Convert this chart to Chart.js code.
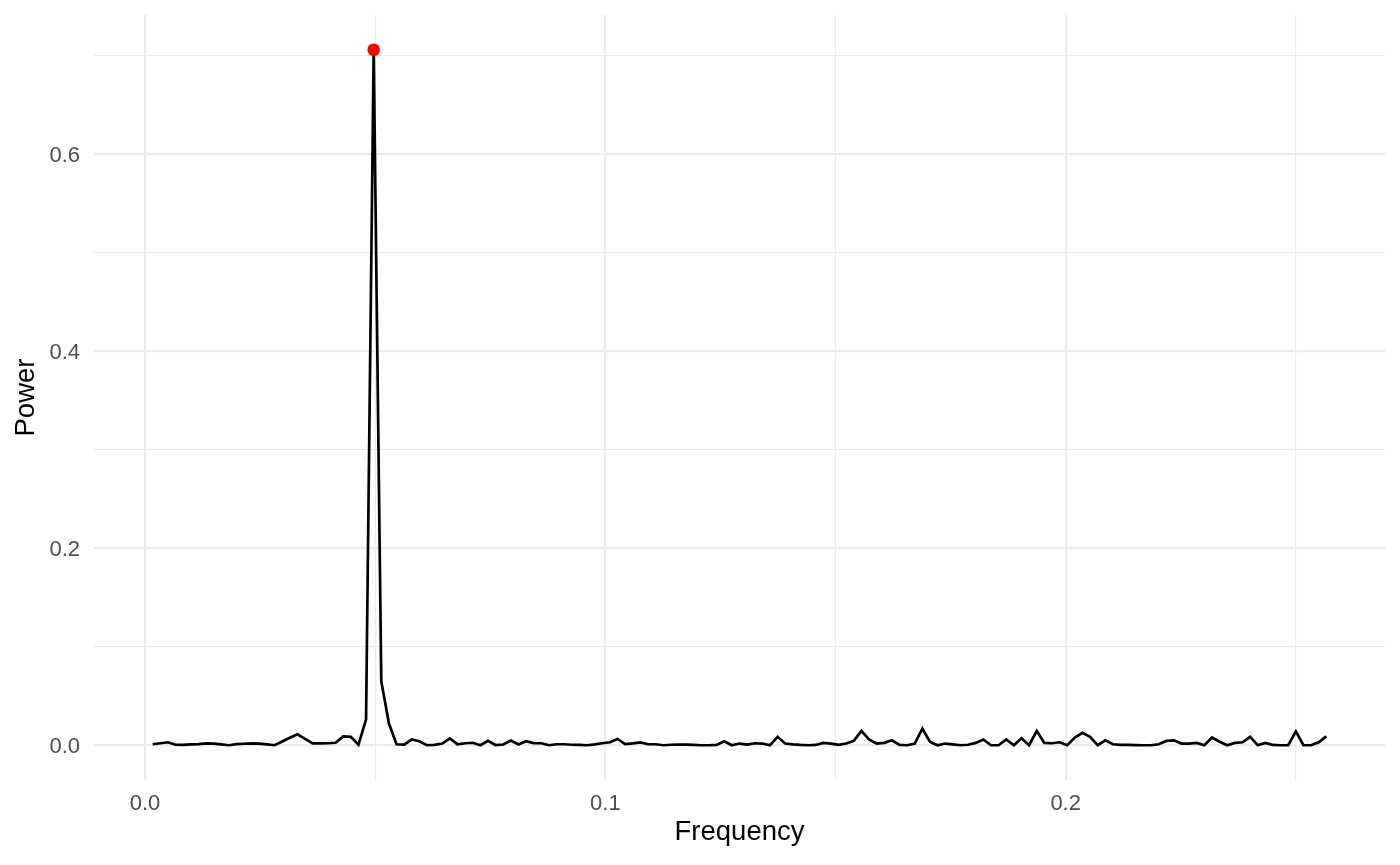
<!DOCTYPE html>
<html>
<head>
<meta charset="utf-8">
<title>Power spectrum</title>
<script src="https://cdn.jsdelivr.net/npm/chart.js@4.4.1/dist/chart.umd.min.js"></script>
<style>
    html, body { margin: 0; padding: 0; background: #ffffff; }
    #wrap { position: absolute; left: 0; top: 0; width: 1400px; height: 865px; }
</style>
</head>
<body>
<div id="wrap"><canvas id="spectrumChart" width="1400" height="865"></canvas></div>
<script>
// frequency grid of the periodogram (cycles per step)
var FREQUENCY = [
    0.00166, 0.00331, 0.00497, 0.00662, 0.00828, 0.00993, 0.01159, 0.01325, 0.01490, 0.01656,
    0.01821, 0.01987, 0.02152, 0.02318, 0.02483, 0.02649, 0.02815, 0.02980, 0.03146, 0.03311,
    0.03477, 0.03642, 0.03808, 0.03974, 0.04139, 0.04305, 0.04470, 0.04636, 0.04801, 0.04967,
    0.05132, 0.05298, 0.05464, 0.05629, 0.05795, 0.05960, 0.06126, 0.06291, 0.06457, 0.06623,
    0.06788, 0.06954, 0.07119, 0.07285, 0.07450, 0.07616, 0.07781, 0.07947, 0.08113, 0.08278,
    0.08444, 0.08609, 0.08775, 0.08940, 0.09106, 0.09272, 0.09437, 0.09603, 0.09768, 0.09934,
    0.10099, 0.10265, 0.10430, 0.10596, 0.10762, 0.10927, 0.11093, 0.11258, 0.11424, 0.11589,
    0.11755, 0.11921, 0.12086, 0.12252, 0.12417, 0.12583, 0.12748, 0.12914, 0.13079, 0.13245,
    0.13411, 0.13576, 0.13742, 0.13907, 0.14073, 0.14238, 0.14404, 0.14570, 0.14735, 0.14901,
    0.15066, 0.15232, 0.15397, 0.15563, 0.15728, 0.15894, 0.16060, 0.16225, 0.16391, 0.16556,
    0.16722, 0.16887, 0.17053, 0.17219, 0.17384, 0.17550, 0.17715, 0.17881, 0.18046, 0.18212,
    0.18377, 0.18543, 0.18709, 0.18874, 0.19040, 0.19205, 0.19371, 0.19536, 0.19702, 0.19868,
    0.20033, 0.20199, 0.20364, 0.20530, 0.20695, 0.20861, 0.21026, 0.21192, 0.21358, 0.21523,
    0.21689, 0.21854, 0.22020, 0.22185, 0.22351, 0.22517, 0.22682, 0.22848, 0.23013, 0.23179,
    0.23344, 0.23510, 0.23675, 0.23841, 0.24007, 0.24172, 0.24338, 0.24503, 0.24669, 0.24834,
    0.25000, 0.25166, 0.25331, 0.25497, 0.25662
];

// power at each frequency
var POWER = [
    0.0010, 0.0020, 0.0030, 0.0005, 0.0003, 0.0008, 0.0012, 0.0018, 0.0017, 0.0008,
    0.0000, 0.0012, 0.0015, 0.0018, 0.0017, 0.0008, 0.0000, 0.0038, 0.0075, 0.0110,
    0.0065, 0.0018, 0.0018, 0.0020, 0.0025, 0.0090, 0.0085, 0.0005, 0.0260, 0.7060,
    0.0650, 0.0220, 0.0010, 0.0007, 0.0058, 0.0040, 0.0000, 0.0003, 0.0017, 0.0070,
    0.0010, 0.0020, 0.0025, 0.0000, 0.0045, 0.0002, 0.0007, 0.0047, 0.0007, 0.0040,
    0.0020, 0.0020, 0.0000, 0.0010, 0.0010, 0.0005, 0.0003, 0.0000, 0.0008, 0.0020,
    0.0030, 0.0064, 0.0012, 0.0018, 0.0028, 0.0010, 0.0010, 0.0000, 0.0005, 0.0007,
    0.0007, 0.0003, 0.0000, 0.0000, 0.0003, 0.0040, 0.0000, 0.0017, 0.0007, 0.0020,
    0.0017, 0.0000, 0.0085, 0.0017, 0.0008, 0.0003, 0.0000, 0.0003, 0.0024, 0.0017,
    0.0003, 0.0017, 0.0044, 0.0145, 0.0058, 0.0017, 0.0024, 0.0050, 0.0003, 0.0000,
    0.0017, 0.0170, 0.0034, 0.0000, 0.0017, 0.0008, 0.0000, 0.0005, 0.0024, 0.0058,
    0.0000, 0.0000, 0.0058, 0.0000, 0.0071, 0.0000, 0.0145, 0.0024, 0.0020, 0.0030,
    0.0000, 0.0078, 0.0125, 0.0085, 0.0000, 0.0050, 0.0010, 0.0003, 0.0003, 0.0002,
    0.0000, 0.0000, 0.0010, 0.0044, 0.0050, 0.0017, 0.0017, 0.0024, 0.0000, 0.0078,
    0.0035, 0.0000, 0.0024, 0.0030, 0.0085, 0.0000, 0.0024, 0.0003, 0.0000, 0.0000,
    0.0140, 0.0000, 0.0000, 0.0030, 0.0090
];

var X_MAJOR = [0, 0.1, 0.2];
var X_MINOR = [0.05, 0.15, 0.25];
var Y_MAJOR = [0, 0.2, 0.4, 0.6];
var Y_MINOR = [0.1, 0.3, 0.5, 0.7];

var X_TITLE = 'Frequency';
var Y_TITLE = 'Power';

document.addEventListener('DOMContentLoaded', function () {
    var canvas = document.getElementById('spectrumChart');
    var FONT = "'Liberation Sans', Arial, Helvetica, sans-serif";
    var GRID = '#EBEBEB';

    function isMajor(list, v) {
        for (var i = 0; i < list.length; i++) {
            if (Math.abs(list[i] - v) < 1e-9) return true;
        }
        return false;
    }

    function tickSetter(major, minor) {
        return function (axis) {
            var all = major.concat(minor).sort(function (a, b) { return a - b; });
            axis.ticks = all.map(function (v) { return { value: v }; });
        };
    }

    // fixed axis box sizes, no extra room for end labels
    function fixBox(w, h) {
        return function (scale) {
            if (w !== null) scale.width = w;
            if (h !== null) scale.height = h;
            scale.paddingTop = 0;
            scale.paddingBottom = 0;
            scale.paddingLeft = 0;
            scale.paddingRight = 0;
        };
    }

    var line = FREQUENCY.map(function (f, i) { return { x: f, y: POWER[i] }; });

    // strongest frequency gets the red marker
    var peakIdx = 0;
    for (var i = 1; i < POWER.length; i++) {
        if (POWER[i] > POWER[peakIdx]) peakIdx = i;
    }
    var peak = [{ x: FREQUENCY[peakIdx], y: POWER[peakIdx] }];

    new Chart(canvas, {
        type: 'scatter',
        data: {
            datasets: [
                {
                    label: 'Peak',
                    data: peak,
                    showLine: false,
                    pointRadius: 6.3,
                    pointHoverRadius: 6.3,
                    pointBackgroundColor: '#FF0000',
                    pointBorderWidth: 0,
                    order: 0
                },
                {
                    label: 'Spectrum',
                    data: line,
                    showLine: true,
                    borderColor: '#000000',
                    borderWidth: 2.7,
                    pointRadius: 0,
                    pointHoverRadius: 0,
                    tension: 0,
                    fill: false,
                    order: 1
                }
            ]
        },
        options: {
            responsive: false,
            animation: false,
            events: [],
            layout: { padding: { top: 15, right: 15, left: 0, bottom: 0 } },
            plugins: {
                legend: { display: false },
                tooltip: { enabled: false }
            },
            scales: {
                x: {
                    type: 'linear',
                    min: -0.01109,
                    max: 0.26937,
                    afterBuildTicks: tickSetter(X_MAJOR, X_MINOR),
                    afterFit: fixBox(null, 85),
                    border: { display: false },
                    grid: {
                        drawTicks: false,
                        color: GRID,
                        lineWidth: function (ctx) {
                            return isMajor(X_MAJOR, ctx.tick.value) ? 2.2 : 1.1;
                        }
                    },
                    ticks: {
                        padding: 11,
                        color: '#4D4D4D',
                        font: { family: FONT, size: 22 },
                        maxRotation: 0,
                        autoSkip: false,
                        callback: function (v) {
                            return isMajor(X_MAJOR, v) ? Number(v).toFixed(1) : '';
                        }
                    },
                    title: {
                        display: true,
                        text: X_TITLE,
                        color: '#000000',
                        font: { family: FONT, size: 27.5 },
                        padding: { top: 0, bottom: 16 }
                    }
                },
                y: {
                    type: 'linear',
                    min: -0.0353,
                    max: 0.7413,
                    afterBuildTicks: tickSetter(Y_MAJOR, Y_MINOR),
                    afterFit: fixBox(94, null),
                    border: { display: false },
                    grid: {
                        drawTicks: false,
                        color: GRID,
                        lineWidth: function (ctx) {
                            return isMajor(Y_MAJOR, ctx.tick.value) ? 2.2 : 1.1;
                        }
                    },
                    ticks: {
                        padding: 14,
                        labelOffset: 2,
                        color: '#4D4D4D',
                        font: { family: FONT, size: 22 },
                        autoSkip: false,
                        callback: function (v) {
                            return isMajor(Y_MAJOR, v) ? Number(v).toFixed(1) : '';
                        }
                    },
                    title: {
                        display: true,
                        text: Y_TITLE,
                        color: '#000000',
                        font: { family: FONT, size: 27.5 },
                        padding: { top: 10, bottom: 0 }
                    }
                }
            }
        }
    });
});
</script>
</body>
</html>
